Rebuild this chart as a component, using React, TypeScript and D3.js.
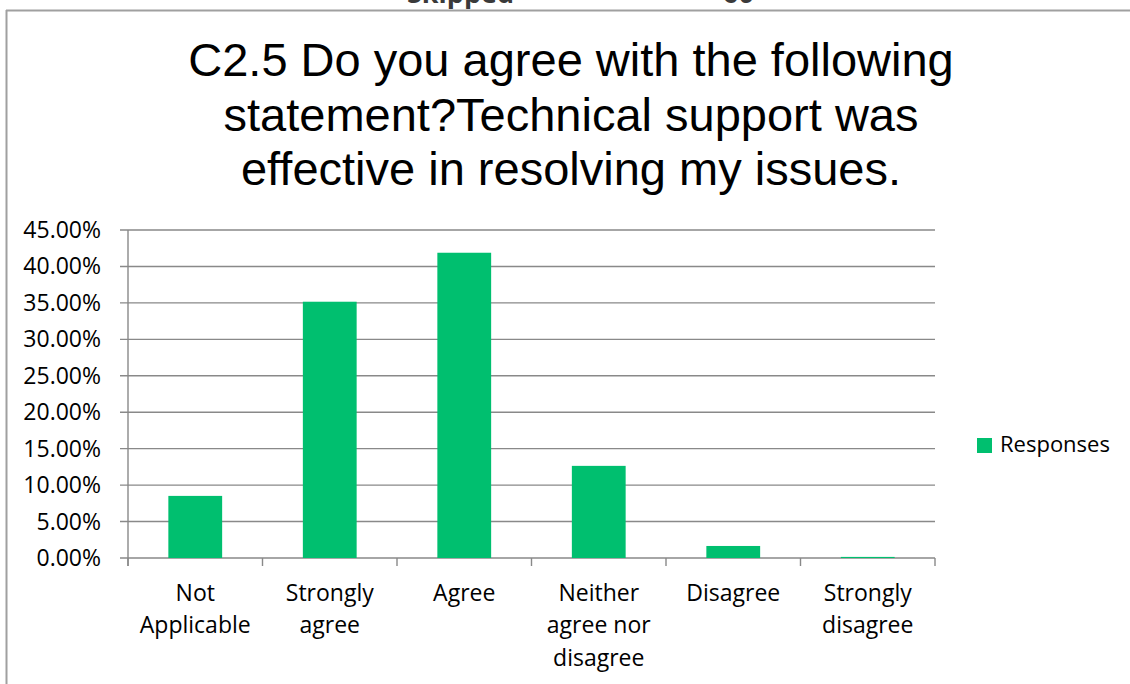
import React from "react";
import * as d3 from "d3";

const categories: string[][] = [
  ["Not", "Applicable"],
  ["Strongly", "agree"],
  ["Agree"],
  ["Neither", "agree nor", "disagree"],
  ["Disagree"],
  ["Strongly", "disagree"],
];
const responses: number[] = [0.0852, 0.3516, 0.4188, 0.1264, 0.0165, 0.0015];
const yTicks: number[] = [0, 0.05, 0.1, 0.15, 0.2, 0.25, 0.3, 0.35, 0.4, 0.45];
const titleLines: string[] = [
  "C2.5 Do you agree with the following",
  "statement?Technical support was",
  "effective in resolving my issues.",
];
const seriesName = "Responses";
const topLabels = ["Skipped", "60"];

const W = 1130;
const H = 684;
const left = 128;
const right = 935;
const top = 230;
const bottom = 558;
const green = "#00BF6F";
const gridColor = "#898989";
const axisFont = "'Open Sans', 'Noto Sans', sans-serif";

export default function App() {
  const keys = categories.map((c) => c.join(" "));
  const x = d3.scaleBand<string>().domain(keys).range([left, right]).paddingInner(0.6).paddingOuter(0.3);
  const y = d3.scaleLinear().domain([0, 0.45]).range([bottom, top]);
  const step = (right - left) / keys.length;
  const fmt = d3.format(".2%");

  return (
    <svg
      width={W}
      height={H}
      style={{ position: "absolute", left: 0, top: 0, background: "#fff" }}
      xmlns="http://www.w3.org/2000/svg"
    >
      <rect x={0} y={0} width={W} height={H} fill="#fff" />
      {/* clipped header text */}
      <text x={407} y={3} fontFamily={axisFont} fontWeight={700} fontSize={27} fill="#3a3a3a">
        {topLabels[0]}
      </text>
      <text x={723} y={3} fontFamily={axisFont} fontWeight={700} fontSize={27} fill="#3a3a3a">
        {topLabels[1]}
      </text>
      {/* chart border */}
      <line x1={6} x2={W} y1={10.5} y2={10.5} stroke="#a0a0a0" strokeWidth={2} />
      <line x1={6.5} x2={6.5} y1={10} y2={H} stroke="#a0a0a0" strokeWidth={2} />

      {/* title */}
      {titleLines.map((t, i) => (
        <text
          key={i}
          x={571}
          y={76 + i * 54.5}
          textAnchor="middle"
          fontFamily="'Liberation Sans', Arial, sans-serif"
          fontSize={47}
          fill="#000"
        >
          {t}
        </text>
      ))}

      {/* gridlines and y ticks */}
      {yTicks.map((t) => (
        <g key={t}>
          <line x1={left - 8} x2={right} y1={y(t)} y2={y(t)} stroke={gridColor} strokeWidth={1.4} />
          <text
            x={101}
            y={y(t) + 8}
            textAnchor="end"
            fontFamily={axisFont}
            fontSize={23}
            fill="#000"
          >
            {fmt(t)}
          </text>
        </g>
      ))}
      {/* y axis */}
      <line x1={left} x2={left} y1={top} y2={bottom + 8} stroke={gridColor} strokeWidth={1.4} />
      {/* category ticks */}
      {d3.range(keys.length + 1).map((i) => (
        <line
          key={i}
          x1={left + i * step}
          x2={left + i * step}
          y1={bottom}
          y2={bottom + 8}
          stroke={gridColor}
          strokeWidth={1.4}
        />
      ))}

      {/* bars */}
      {responses.map((v, i) => (
        <rect
          key={i}
          x={x(keys[i])}
          y={y(v)}
          width={x.bandwidth()}
          height={bottom - y(v)}
          fill={green}
        />
      ))}

      {/* category labels */}
      {categories.map((lines, i) => (
        <text
          key={i}
          textAnchor="middle"
          fontFamily={axisFont}
          fontSize={23}
          fill="#000"
        >
          {lines.map((l, j) => (
            <tspan key={j} x={(x(keys[i]) as number) + x.bandwidth() / 2} y={600.7 + j * 32.7}>
              {l}
            </tspan>
          ))}
        </text>
      ))}

      {/* legend */}
      <rect x={977} y={438} width={15} height={15} fill={green} />
      <text x={1000} y={452} fontFamily={axisFont} fontSize={22} fill="#000">
        {seriesName}
      </text>
    </svg>
  );
}
